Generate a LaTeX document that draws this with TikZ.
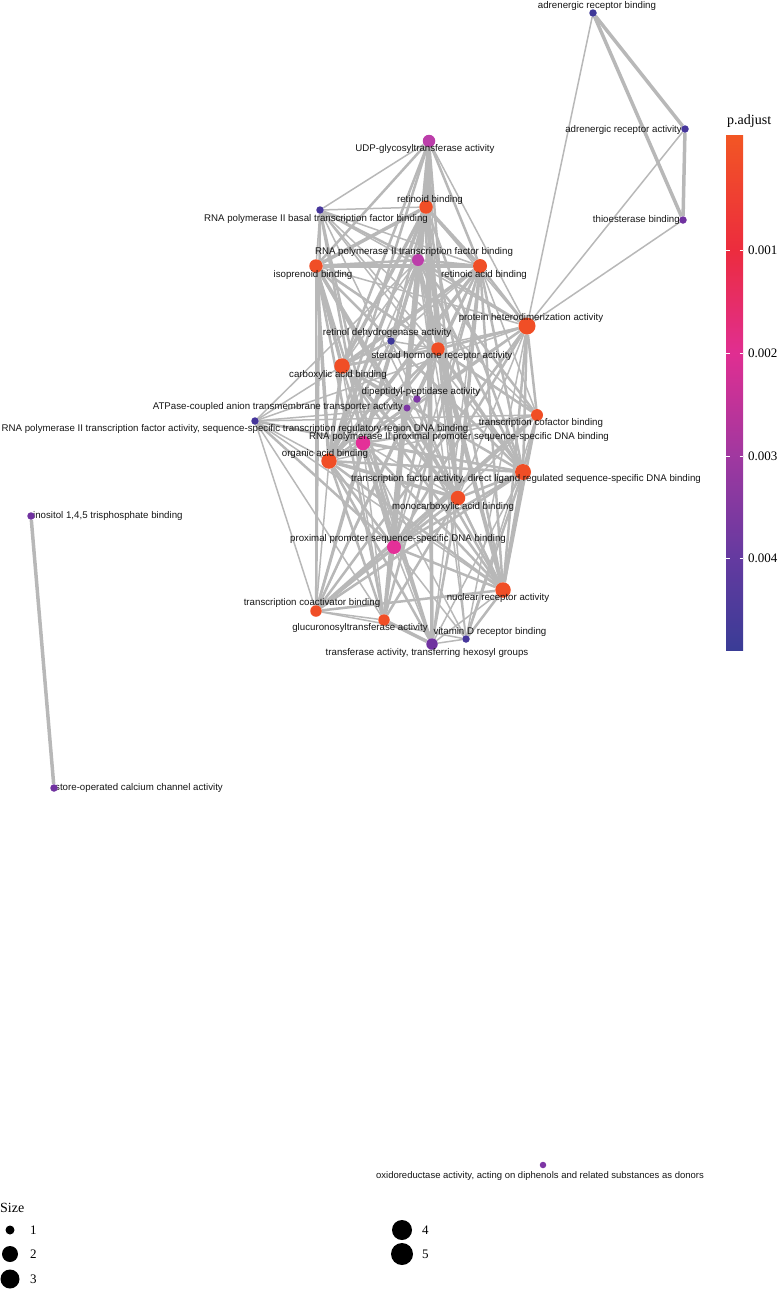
\documentclass[tikz,border=0pt]{standalone}
\usepackage{fontspec}
\setmainfont{Liberation Serif}
\newfontfamily\termfont{Liberation Sans}
\usetikzlibrary{positioning}
\pgfdeclarelayer{bg}
\pgfsetlayers{bg,main}
\definecolor{linkgray}{RGB}{184,184,184}
\definecolor{labelink}{RGB}{22,22,22}
\definecolor{goorange}{RGB}{240,78,38}
\definecolor{gopink}{RGB}{228,48,152}
\definecolor{gomagenta}{RGB}{188,62,170}
\definecolor{goviolet}{RGB}{112,50,160}
\definecolor{golilac}{RGB}{126,54,165}
\definecolor{goindigo}{RGB}{70,54,155}
\definecolor{gonavy}{RGB}{62,56,152}
\definecolor{bar0}{RGB}{242,86,36}
\definecolor{bar1}{RGB}{236,44,62}
\definecolor{bar2}{RGB}{224,46,145}
\definecolor{bar3}{RGB}{160,56,160}
\definecolor{bar4}{RGB}{100,58,160}
\definecolor{bar5}{RGB}{58,60,150}

\tikzset{
  term/.style={circle,inner sep=0pt,draw=none,fill=#1},
  golabel/.style={inner sep=0pt,text=labelink,font=\termfont\fontsize{9.7}{11}\selectfont},
  lnkA/.style={draw=linkgray,line width=1.5pt},
  lnkB/.style={draw=linkgray,line width=2.5pt},
  lnkC/.style={draw=linkgray,line width=3.5pt},
  legendtxt/.style={inner sep=0pt,font=\fontsize{13}{14}\selectfont}
}

\begin{document}
\begin{tikzpicture}[x=1pt,y=-1pt]
  \useasboundingbox (0,0) rectangle (784,1291);

  % terms
  \node[term=gonavy,minimum size=7.5pt] (arb) at (593,13) {};
  \node[term=goindigo,minimum size=7.5pt] (ara) at (685,129) {};
  \node[term=goviolet,minimum size=7.5pt] (thb) at (683,220) {};
  \node[term=gomagenta,minimum size=12.5pt] (udp) at (429,141) {};
  \node[term=goorange,minimum size=13.5pt] (rtb) at (426,207) {};
  \node[term=goindigo,minimum size=7.5pt] (bas) at (320,210) {};
  \node[term=gomagenta,minimum size=12pt] (tfb) at (418,260) {};
  \node[term=goorange,minimum size=13.5pt] (iso) at (316,266) {};
  \node[term=goorange,minimum size=14pt] (rab) at (480,266) {};
  \node[term=goorange,minimum size=17pt] (phd) at (527,326) {};
  \node[term=gonavy,minimum size=7.5pt] (rdh) at (391,341) {};
  \node[term=goorange,minimum size=13.5pt] (shr) at (438,349) {};
  \node[term=goorange,minimum size=15.5pt] (cab) at (342,366) {};
  \node[term=golilac,minimum size=7.5pt] (dpp) at (417,399) {};
  \node[term=golilac,minimum size=7pt] (atp) at (407,408) {};
  \node[term=goindigo,minimum size=7.5pt] (tfa) at (255,421) {};
  \node[term=goorange,minimum size=12pt] (tcf) at (537,415) {};
  \node[term=gopink,minimum size=14.5pt] (ppr) at (363,443) {};
  \node[term=goorange,minimum size=15.5pt] (oab) at (329,461) {};
  \node[term=goorange,minimum size=16pt] (dlr) at (523,472) {};
  \node[term=goorange,minimum size=14.5pt] (mab) at (458,498) {};
  \node[term=gopink,minimum size=14pt] (pps) at (394,547) {};
  \node[term=goorange,minimum size=15.5pt] (nra) at (503,590) {};
  \node[term=goorange,minimum size=11.5pt] (tca) at (316,611) {};
  \node[term=goorange,minimum size=11.5pt] (glu) at (384,620) {};
  \node[term=goindigo,minimum size=7.5pt] (vdr) at (466,639) {};
  \node[term=goviolet,minimum size=11.5pt] (hex) at (432,644) {};
  \node[term=goviolet,minimum size=7.5pt] (ino) at (31,516) {};
  \node[term=goviolet,minimum size=7.5pt] (soc) at (54,788) {};
  \node[term=golilac,minimum size=6.5pt] (oxi) at (543,1165) {};

  % links
  \begin{pgfonlayer}{bg}
    \foreach \a/\b in {arb/phd,ara/phd,thb/phd,udp/bas,udp/phd,udp/shr,udp/pps,
      rtb/bas,rtb/phd,rtb/pps,bas/iso,bas/rab,bas/phd,bas/tcf,bas/dlr,bas/shr,bas/nra,
      tfb/vdr,tfb/tfa,tfb/oab,tfb/cab,tfb/mab,iso/tca,iso/phd,iso/rdh,iso/tcf,
      rab/tcf,rab/pps,rab/rdh,rab/tca,rab/hex,phd/mab,phd/oab,phd/cab,phd/vdr,phd/tfa,
      rdh/mab,rdh/shr,shr/vdr,cab/glu,cab/hex,cab/dpp,cab/atp,cab/pps,cab/tfa,
      dpp/oab,dpp/mab,atp/oab,atp/mab,atp/tfa,tfa/oab,tfa/tca,tfa/dlr,tfa/tcf,tfa/nra,
      tfa/glu,tcf/oab,tcf/mab,tcf/vdr,ppr/mab,ppr/hex,ppr/vdr,ppr/glu,oab/tca,dlr/hex,
      mab/tca,pps/hex,pps/vdr,nra/hex,tca/glu,tca/vdr,vdr/hex}
      \draw[lnkA] (\a) -- (\b);
    \foreach \a/\b in {udp/iso,udp/rab,udp/tfb,udp/cab,udp/oab,udp/mab,rtb/tfb,rtb/rdh,
      rtb/shr,rtb/glu,rtb/hex,rtb/dlr,rtb/nra,bas/tfb,bas/ppr,bas/pps,bas/tca,tfb/iso,
      tfb/rab,tfb/phd,tfb/tcf,tfb/tca,tfb/dlr,tfb/nra,tfb/shr,iso/shr,iso/dlr,iso/nra,
      iso/glu,iso/hex,rab/shr,rab/dlr,rab/nra,rab/phd,rab/glu,phd/shr,phd/tcf,phd/dlr,
      phd/nra,phd/ppr,phd/pps,phd/tca,rdh/cab,rdh/oab,shr/cab,shr/oab,shr/tcf,shr/tca,
      shr/ppr,shr/pps,shr/mab,cab/dlr,cab/nra,tfa/ppr,tfa/pps,tcf/ppr,tcf/pps,tcf/dlr,
      tcf/nra,ppr/oab,ppr/dlr,ppr/nra,ppr/tca,oab/dlr,oab/nra,oab/glu,oab/hex,oab/pps,
      dlr/mab,dlr/pps,dlr/tca,dlr/vdr,mab/nra,mab/glu,mab/hex,mab/pps,pps/nra,pps/tca,
      pps/glu,nra/vdr,nra/tca}
      \draw[lnkB] (\a) -- (\b);
    \foreach \a/\b in {arb/ara,arb/thb,ara/thb,ino/soc,udp/rtb,udp/glu,udp/hex,glu/hex,
      rtb/iso,rtb/rab,rtb/cab,rtb/oab,rtb/mab,iso/rab,iso/cab,iso/oab,iso/mab,rab/cab,
      rab/oab,rab/mab,cab/oab,cab/mab,oab/mab,tfb/ppr,tfb/pps,ppr/pps,shr/dlr,shr/nra,
      dlr/nra,tcf/tca}
      \draw[lnkC] (\a) -- (\b);
  \end{pgfonlayer}

  % term labels
  \node[golabel] (arbL) at (597,6) {adrenergic receptor binding};
  \node[golabel,anchor=east] (araL) at (682,130) {adrenergic receptor activity};
  \node[golabel,anchor=east] (thbL) at (680,220) {thioesterase binding};
  \node[golabel] (udpL) at (425,149) {UDP-glycosyltransferase activity};
  \node[golabel] (rtbL) at (430,200) {retinoid binding};
  \node[golabel] (basL) at (316,219) {RNA polymerase II basal transcription factor binding};
  \node[golabel] (tfbL) at (414,252) {RNA polymerase II transcription factor binding};
  \node[golabel] (isoL) at (313,275) {isoprenoid binding};
  \node[golabel] (rabL) at (484,275) {retinoic acid binding};
  \node[golabel] (phdL) at (531,318) {protein heterodimerization activity};
  \node[golabel] (rdhL) at (387,333) {retinol dehydrogenase activity};
  \node[golabel] (shrL) at (442,356) {steroid hormone receptor activity};
  \node[golabel] (cabL) at (338,375) {carboxylic acid binding};
  \node[golabel] (dppL) at (421,392) {dipeptidyl-peptidase activity};
  \node[golabel,anchor=east] (atpL) at (403,407) {ATPase-coupled anion transmembrane transporter activity};
  \node[golabel] (tfaL) at (235,429) {RNA polymerase II transcription factor activity, sequence-specific transcription regulatory region DNA binding};
  \node[golabel] (tcfL) at (541,423) {transcription cofactor binding};
  \node[golabel] (pprL) at (459,437) {RNA polymerase II proximal promoter sequence-specific DNA binding};
  \node[golabel] (oabL) at (325,454) {organic acid binding};
  \node[golabel] (dlrL) at (526,479) {transcription factor activity, direct ligand regulated sequence-specific DNA binding};
  \node[golabel] (mabL) at (453,507) {monocarboxylic acid binding};
  \node[golabel] (ppsL) at (398,539) {proximal promoter sequence-specific DNA binding};
  \node[golabel] (nraL) at (498,598) {nuclear receptor activity};
  \node[golabel] (tcaL) at (312,603) {transcription coactivator binding};
  \node[golabel] (gluL) at (360,628) {glucuronosyltransferase activity};
  \node[golabel] (vdrL) at (490,632) {vitamin D receptor binding};
  \node[golabel] (hexL) at (427,653) {transferase activity, transferring hexosyl groups};
  \begin{pgfonlayer}{bg}
    \node[golabel,anchor=west] (inoL) at (33,516) {inositol 1,4,5 trisphosphate binding};
    \node[golabel,anchor=west] (socL) at (55,788) {store-operated calcium channel activity};
  \end{pgfonlayer}
  \node[golabel,font=\termfont\fontsize{9.5}{10}\selectfont] (oxiL) at (540,1176) {oxidoreductase activity, acting on diphenols and related substances as donors};

  % colour bar
  \node[legendtxt,anchor=south west,font=\fontsize{14}{15}\selectfont] (padj) at (727,128) {p.adjust};
  \shade[top color=bar0,bottom color=bar1] (726,135) rectangle (743,250);
  \shade[top color=bar1,bottom color=bar2] (726,250) rectangle (743,353);
  \shade[top color=bar2,bottom color=bar3] (726,353) rectangle (743,456);
  \shade[top color=bar3,bottom color=bar4] (726,456) rectangle (743,558);
  \shade[top color=bar4,bottom color=bar5] (726,558) rectangle (743,650);
  \foreach \ty/\tv in {250/0.001,353/0.002,456/0.003,558/0.004}{
    \draw[white,line width=0.6pt] (726,\ty) -- (729.5,\ty);
    \draw[white,line width=0.6pt] (739.5,\ty) -- (743,\ty);
    \node[legendtxt,anchor=west] at (748,\ty) {\tv};
  }

  % size legend
  \node[legendtxt,anchor=west,font=\fontsize{14}{15}\selectfont] (sizeT) at (0,1208) {Size};
  \node[term=black,minimum size=9pt] (sz1) at (10,1230) {};
  \node[term=black,minimum size=16pt] (sz2) at (10,1254) {};
  \node[term=black,minimum size=19pt] (sz3) at (10,1279) {};
  \node[term=black,minimum size=20pt] (sz4) at (402,1230) {};
  \node[term=black,minimum size=22pt] (sz5) at (402,1254) {};
  \node[legendtxt,anchor=west] at (30,1230) {1};
  \node[legendtxt,anchor=west] at (30,1254) {2};
  \node[legendtxt,anchor=west] at (30,1279) {3};
  \node[legendtxt,anchor=west] at (422,1230) {4};
  \node[legendtxt,anchor=west] at (422,1254) {5};
\end{tikzpicture}
\end{document}
